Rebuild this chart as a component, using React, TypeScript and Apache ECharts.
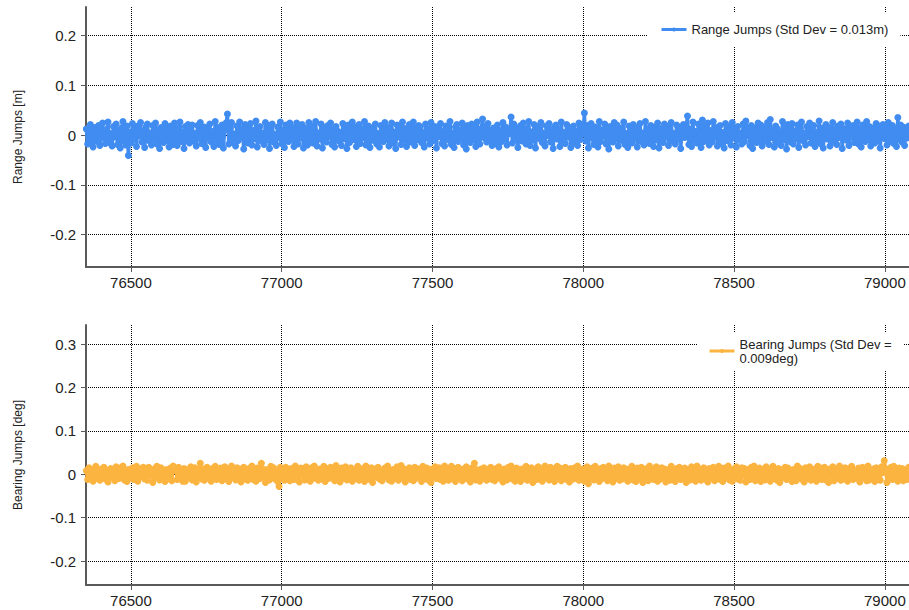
import React, { useEffect, useRef } from 'react';
import * as echarts from 'echarts';

const sampleStart = 76352;
const sampleStep = 4.5;

const rangeJumps = [
  0.012, -0.018, 0.005, 0.021, -0.009, -0.024, 0.015, 0.002, -0.013, 0.019, -0.021, 0.008, 0.024, -0.006, -0.017, 0.011, 0.026, -0.015, 0.003, -0.022,
  0.017, -0.004, 0.022, -0.019, 0.009, -0.026, 0.014, 0.027, -0.012, -0.020, 0.018, -0.041, 0.006, -0.016, 0.023, -0.008, 0.013, -0.023, 0.018, -0.002,
  0.025, -0.014, 0.007, -0.025, 0.016, 0.022, -0.011, 0.004, -0.020, 0.019, -0.007, 0.024, -0.018, 0.010, -0.027, 0.015, 0.001, -0.015, 0.023, -0.010,
  0.012, -0.024, 0.018, 0.008, -0.019, 0.024, -0.005, -0.021, 0.014, 0.026, -0.013, 0.006, -0.027, 0.017, -0.009, 0.021, -0.016, 0.011, 0.020, -0.012,
  0.003, -0.022, 0.019, -0.006, 0.025, -0.017, 0.009, 0.016, -0.025, 0.013, -0.003, 0.022, -0.014, 0.007, -0.023, 0.027, -0.010, 0.015, -0.019, 0.004,
  0.020, -0.026, 0.011, 0.024, 0.042, -0.018, 0.016, 0.025, -0.015, 0.002, -0.022, 0.018, -0.011, 0.026, -0.004, 0.012, -0.028, 0.021, 0.005, -0.016,
  0.014, 0.023, -0.020, 0.009, -0.007, 0.028, -0.024, 0.013, 0.017, -0.012, 0.004, -0.019, 0.025, -0.009, 0.019, -0.027, 0.008, 0.022, -0.014, 0.001,
  -0.021, 0.016, -0.005, 0.026, -0.017, 0.010, -0.025, 0.020, 0.003, -0.013, 0.024, -0.010, 0.015, -0.023, 0.007, 0.024, -0.018, 0.012, -0.006, 0.021,
  -0.026, 0.014, 0.006, -0.020, 0.025, -0.011, 0.018, -0.016, 0.009, 0.027, -0.022, 0.004, -0.008, 0.022, -0.026, 0.015, 0.011, -0.014, 0.019, -0.003,
  0.024, -0.019, 0.010, -0.024, 0.017, 0.008, -0.012, 0.005, -0.021, 0.023, -0.007, 0.013, -0.027, 0.020, -0.015, 0.008, 0.026, -0.009, 0.016, -0.023,
  0.002, 0.021, -0.017, 0.012, -0.005, 0.027, -0.020, 0.007, 0.018, -0.025, 0.014, 0.010, -0.011, 0.022, -0.018, 0.003, -0.024, 0.019, 0.009, -0.013,
  0.025, -0.008, 0.015, -0.022, 0.011, 0.024, -0.016, 0.006, -0.027, 0.020, -0.004, 0.017, -0.019, 0.026, -0.010, 0.013, -0.023, 0.008, 0.021, -0.014,
  0.001, 0.026, -0.021, 0.014, -0.009, 0.019, 0.016, -0.015, 0.005, -0.024, 0.022, -0.006, 0.012, -0.018, 0.025, -0.012, 0.009, 0.017, -0.026, 0.015,
  -0.003, 0.023, -0.017, 0.007, -0.022, 0.018, 0.011, -0.010, 0.027, -0.019, 0.004, -0.025, 0.016, 0.021, -0.013, 0.010, -0.007, 0.024, -0.020, 0.013,
  -0.028, 0.019, 0.002, -0.015, 0.022, -0.009, 0.015, -0.023, 0.026, 0.006, -0.018, 0.012, 0.032, -0.005, 0.017, -0.014, 0.023, -0.011, 0.008, -0.021,
  0.014, -0.017, 0.010, 0.020, -0.024, 0.009, -0.013, 0.025, -0.006, 0.016, -0.020, 0.011, 0.003, 0.036, -0.016, 0.022, -0.009, 0.014, -0.025, 0.007,
  0.019, -0.012, 0.024, -0.003, -0.018, 0.013, 0.027, -0.021, 0.006, -0.010, 0.021, -0.026, 0.012, 0.017, -0.007, 0.025, -0.015, 0.004, -0.022, 0.018,
  -0.001, 0.023, -0.014, 0.009, -0.027, 0.016, 0.020, -0.008, 0.012, -0.023, 0.026, -0.011, 0.005, -0.017, 0.021, -0.004, 0.015, -0.025, 0.010, 0.018,
  -0.016, 0.007, -0.021, 0.024, -0.009, 0.014, 0.002, 0.044, -0.012, 0.019, -0.026, 0.011, 0.023, -0.006, -0.019, 0.016, 0.008, -0.024, 0.027, -0.013,
  0.010, -0.002, 0.022, -0.018, 0.013, -0.028, 0.017, 0.005, -0.014, 0.025, -0.007, 0.020, -0.022, 0.009, 0.014, -0.011, 0.026, -0.019, 0.003, -0.025,
  0.018, 0.011, -0.016, 0.021, -0.006, 0.015, -0.024, 0.008, 0.023, -0.013, 0.004, -0.020, 0.027, -0.009, 0.012, -0.017, 0.019, 0.001, -0.023, 0.016,
  -0.010, 0.024, -0.026, 0.013, 0.006, -0.015, 0.022, -0.004, 0.017, -0.021, 0.010, 0.025, -0.012, 0.003, -0.018, 0.020, -0.008, 0.014, -0.027, 0.011,
  0.021, -0.005, 0.016, 0.038, -0.019, 0.012, -0.023, 0.026, -0.010, 0.007, -0.016, 0.022, 0.002, -0.025, 0.030, -0.013, 0.018, -0.007, 0.024, -0.020,
  0.009, -0.014, 0.027, -0.003, 0.015, -0.022, 0.010, 0.019, -0.017, 0.005, -0.026, 0.023, -0.011, 0.016, 0.008, -0.020, 0.025, -0.006, 0.013, -0.024,
  0.017, -0.009, 0.004, -0.018, 0.022, -0.013, 0.028, -0.001, 0.011, -0.021, 0.019, -0.027, 0.014, 0.007, -0.015, 0.024, -0.008, 0.020, -0.022, 0.003,
  0.016, -0.012, 0.025, -0.019, 0.031, -0.005, 0.010, -0.024, 0.018, 0.013, -0.016, 0.006, -0.021, 0.027, -0.009, 0.015, -0.028, 0.021, 0.002, -0.014,
  0.023, -0.018, 0.008, -0.007, 0.020, -0.025, 0.012, 0.026, -0.011, 0.004, -0.020, 0.017, -0.003, 0.024, -0.016, 0.010, 0.019, -0.023, 0.006, -0.012,
  0.028, -0.017, 0.014, -0.026, 0.009, 0.021, -0.008, 0.015, -0.022, 0.003, 0.025, -0.014, 0.011, -0.019, 0.018, -0.005, 0.022, -0.027, 0.013, 0.007,
  -0.010, 0.024, -0.021, 0.016, -0.004, 0.019, -0.015, 0.009, 0.026, -0.018, 0.012, -0.024, 0.020, 0.001, -0.013, 0.027, -0.009, 0.017, -0.022, 0.014,
  0.005, -0.016, 0.023, -0.011, 0.018, -0.026, 0.010, 0.021, -0.007, 0.015, -0.020, 0.025, -0.013, 0.008, 0.019, -0.017, 0.012, -0.023, 0.035, -0.008,
  0.020, -0.014, 0.016, -0.021, 0.009, -0.006, 0.018,
];

const bearingJumps = [
  0.008, -0.012, 0.015, -0.004, 0.011, -0.016, 0.003, 0.018, -0.009, 0.006, -0.014, 0.012, -0.002, 0.016, -0.011, 0.009, -0.018, 0.005, 0.013, -0.007,
  0.010, -0.015, 0.017, -0.003, -0.010, 0.014, -0.006, 0.019, -0.013, 0.004, -0.017, 0.011, 0.007, -0.008, 0.015, -0.012, 0.002, 0.018, -0.016, 0.009,
  -0.005, 0.013, 0.016, -0.011, 0.006, -0.014, 0.016, -0.002, 0.010, -0.019, 0.012, -0.008, 0.018, 0.003, -0.013, 0.015, -0.006, 0.009, -0.017, 0.011,
  0.004, -0.010, 0.014, -0.015, 0.019, 0.012, 0.008, -0.012, 0.016, 0.010, -0.009, -0.016, 0.013, -0.016, 0.006, 0.011, -0.007, 0.017, -0.013, 0.002,
  0.015, -0.018, 0.009, -0.005, 0.025, -0.011, 0.012, -0.014, 0.004, 0.016, -0.009, 0.007, -0.016, 0.013, -0.003, 0.018, -0.012, 0.010, -0.006, 0.014,
  -0.015, 0.005, 0.017, -0.010, 0.011, -0.017, 0.008, 0.019, -0.007, 0.003, -0.013, 0.015, -0.004, 0.012, -0.018, 0.009, 0.016, -0.011, 0.006, -0.014,
  0.013, -0.008, 0.019, -0.012, 0.004, -0.016, 0.014, 0.007, -0.010, 0.025, -0.005, 0.011, -0.019, 0.010, 0.002, -0.013, 0.018, -0.007, 0.015, -0.011,
  0.006, -0.017, -0.028, 0.016, -0.009, 0.008, -0.014, 0.016, -0.003, 0.010, -0.015, 0.013, 0.005, -0.012, 0.019, -0.006, 0.009, -0.018, 0.014, -0.002,
  0.011, -0.013, 0.017, -0.008, 0.004, -0.016, 0.015, -0.010, 0.019, -0.005, 0.008, -0.014, 0.012, 0.003, -0.011, 0.018, -0.017, 0.007, 0.013, -0.009,
  0.016, -0.004, 0.010, -0.015, 0.020, -0.012, 0.006, -0.018, 0.014, 0.001, -0.009, 0.017, -0.013, 0.009, -0.006, 0.015, -0.016, 0.011, 0.004, -0.010,
  0.018, -0.014, 0.007, -0.008, 0.013, -0.017, 0.019, -0.003, 0.010, -0.012, 0.015, -0.019, 0.005, 0.012, -0.007, 0.016, -0.011, 0.003, -0.015, 0.009,
  0.014, -0.006, 0.019, -0.013, 0.008, -0.016, 0.011, 0.004, -0.010, 0.017, -0.014, 0.006, 0.020, -0.008, 0.012, -0.018, 0.009, -0.004, 0.015, -0.012,
  0.007, -0.015, 0.016, -0.009, 0.013, -0.005, 0.010, -0.017, 0.018, -0.011, 0.003, 0.014, -0.013, 0.008, -0.019, 0.012, -0.006, 0.017, -0.010, 0.005,
  0.015, -0.012, 0.009, -0.016, 0.019, -0.007, 0.011, -0.014, 0.006, 0.018, -0.010, 0.013, -0.017, 0.004, 0.016, -0.008, 0.010, -0.015, 0.012, -0.003,
  0.017, -0.011, 0.008, -0.018, 0.014, -0.006, 0.025, -0.013, 0.010, 0.003, -0.016, 0.012, -0.009, 0.015, 0.006, -0.014, 0.011, -0.007, 0.016, -0.012,
  0.009, -0.015, 0.013, -0.004, 0.017, -0.010, 0.006, -0.018, 0.012, 0.002, -0.013, 0.016, -0.008, 0.019, -0.011, 0.007, -0.016, 0.014, -0.005, 0.010,
  -0.017, 0.012, 0.004, -0.009, 0.018, -0.014, 0.008, -0.006, 0.015, -0.019, 0.011, 0.005, -0.012, 0.017, -0.003, 0.013, -0.016, 0.009, 0.019, -0.008,
  0.006, -0.013, 0.016, -0.010, 0.012, -0.017, 0.003, 0.018, -0.007, 0.014, -0.015, 0.010, -0.004, 0.016, -0.012, 0.008, -0.018, 0.013, 0.001, -0.011,
  0.015, -0.006, 0.019, -0.014, 0.009, -0.009, 0.012, -0.016, 0.005, 0.017, -0.022, 0.011, -0.008, 0.014, -0.013, 0.018, -0.005, 0.007, -0.017, 0.013,
  -0.010, 0.016, -0.003, 0.011, -0.015, 0.019, -0.012, 0.006, -0.018, 0.014, 0.008, -0.009, 0.017, -0.014, 0.004, -0.011, 0.015, -0.007, 0.012, -0.016,
  0.010, -0.004, 0.018, -0.013, 0.007, -0.017, 0.014, 0.002, -0.010, 0.016, -0.019, 0.009, -0.006, 0.013, -0.015, 0.019, -0.008, 0.011, -0.012, 0.005,
  0.017, -0.016, 0.008, -0.011, 0.015, -0.005, 0.012, -0.018, 0.010, 0.004, -0.014, 0.018, -0.009, 0.006, -0.017, 0.013, -0.003, 0.016, -0.012, 0.009,
  -0.007, 0.014, -0.019, 0.011, 0.003, -0.013, 0.017, -0.010, 0.008, -0.016, 0.019, -0.006, 0.012, -0.014, 0.005, 0.015, -0.011, 0.009, -0.018, 0.013,
  0.002, -0.009, 0.016, -0.015, 0.011, -0.004, 0.018, -0.012, 0.007, -0.017, 0.014, 0.010, -0.008, 0.019, -0.013, 0.006, -0.016, 0.012, -0.005, 0.017,
  -0.011, 0.008, -0.014, 0.015, -0.002, 0.013, -0.018, 0.010, 0.005, -0.012, 0.016, -0.009, 0.019, -0.015, 0.004, -0.007, 0.014, -0.017, 0.011, 0.003,
  -0.013, 0.017, -0.006, 0.012, -0.016, 0.009, 0.018, -0.010, 0.006, -0.014, 0.013, -0.019, 0.010, 0.002, -0.008, 0.016, -0.012, 0.014, -0.004, 0.008,
  -0.017, 0.011, 0.005, -0.015, 0.019, -0.007, 0.013, -0.011, 0.008, -0.018, 0.015, 0.003, -0.010, 0.017, -0.014, 0.009, -0.006, 0.012, -0.016, 0.018,
  -0.008, 0.014, -0.012, 0.006, 0.016, -0.013, 0.010, -0.019, 0.012, -0.003, 0.017, -0.015, 0.007, 0.011, -0.009, 0.019, -0.014, 0.004, -0.011, 0.015,
  0.009, -0.016, 0.013, -0.005, 0.018, -0.012, 0.006, -0.004, -0.010, 0.014, -0.018, 0.008, 0.016, -0.007, 0.011, -0.015, 0.019, -0.013, 0.003, -0.009,
  0.012, -0.017, 0.015, -0.006, 0.010, -0.014, 0.017, 0.004, 0.031, 0.013, -0.019, 0.009, -0.008, 0.016, -0.012, 0.018, -0.005, 0.011, -0.016, 0.014,
  -0.009, 0.013, -0.015, 0.010, 0.006, -0.012, 0.016,
];

const xTicks = [76500, 77000, 77500, 78000, 78500, 79000];
const rangeTicks = [-0.2, -0.1, 0, 0.1, 0.2];
const bearingTicks = [-0.2, -0.1, 0, 0.1, 0.2, 0.3];

const rangeName = 'Range Jumps (Std Dev = 0.013m)';
const bearingName = 'Bearing Jumps (Std Dev = 0.009deg)';
const rangeAxisName = 'Range Jumps [m]';
const bearingAxisName = 'Bearing Jumps [deg]';

const FONT = 'Liberation Sans, Arial, sans-serif';
const AXIS_COLOR = '#5a5a5a';
const TEXT_COLOR = '#222';

function makeX(gridIndex: number) {
  return {
    type: 'value',
    gridIndex,
    min: 76351,
    max: 79080,
    axisLine: { show: true, onZero: false, lineStyle: { color: AXIS_COLOR, width: 2 } },
    axisTick: { show: true, length: 5, customValues: xTicks, lineStyle: { color: AXIS_COLOR, width: 1 } },
    axisLabel: {
      customValues: xTicks,
      formatter: (v: number) => String(v),
      color: TEXT_COLOR,
      fontSize: 15,
      fontFamily: FONT,
      margin: 8,
    },
    splitLine: { show: true, lineStyle: { type: 'dotted', color: '#000', width: 1 } },
  };
}

function makeY(gridIndex: number, min: number, max: number, ticks: number[], name: string) {
  return {
    type: 'value',
    gridIndex,
    min,
    max,
    name,
    nameLocation: 'middle',
    nameGap: 62,
    nameTextStyle: { fontSize: 12, color: TEXT_COLOR, fontFamily: FONT },
    axisLine: { show: true, onZero: false, lineStyle: { color: AXIS_COLOR, width: 2 } },
    axisTick: { show: true, length: 5, customValues: ticks, lineStyle: { color: AXIS_COLOR, width: 1 } },
    axisLabel: {
      customValues: ticks,
      formatter: (v: number) => String(v),
      color: TEXT_COLOR,
      fontSize: 15,
      fontFamily: FONT,
      margin: 10,
    },
    splitLine: { show: true, lineStyle: { type: 'dotted', color: '#000', width: 1 } },
  };
}

export default function App() {
  const ref = useRef<HTMLDivElement>(null);

  useEffect(() => {
    if (!ref.current) return;
    const chart = echarts.init(ref.current, undefined, { renderer: 'svg' });
    const rangeData = rangeJumps.map((v, i) => [sampleStart + i * sampleStep, v]);
    const bearingData = bearingJumps.map((v, i) => [sampleStart + i * sampleStep, v]);

    chart.setOption({
      animation: false,
      backgroundColor: '#fff',
      grid: [
        { left: 86, top: 7, width: 823, height: 260 },
        { left: 86, top: 325, width: 823, height: 260 },
      ],
      xAxis: [makeX(0), makeX(1)],
      yAxis: [
        makeY(0, -0.265, 0.257, rangeTicks, rangeAxisName),
        makeY(1, -0.2553, 0.3438, bearingTicks, bearingAxisName),
      ],
      legend: [
        {
          data: [rangeName],
          left: 648,
          top: 13,
          orient: 'vertical',
          backgroundColor: '#fff',
          padding: [10, 12, 10, 12],
          itemWidth: 25,
          itemHeight: 5,
          lineStyle: { width: 3 },
          textStyle: { fontSize: 13, color: TEXT_COLOR, fontFamily: FONT },
        },
        {
          data: [bearingName],
          left: 697,
          top: 332,
          orient: 'vertical',
          backgroundColor: '#fff',
          padding: [5, 12, 6, 11],
          itemWidth: 25,
          itemHeight: 5,
          lineStyle: { width: 3 },
          formatter: (n: string) => n.replace('= ', '=\n'),
          textStyle: { fontSize: 13, lineHeight: 14, color: TEXT_COLOR, fontFamily: FONT },
        },
      ],
      series: [
        {
          name: rangeName,
          type: 'line',
          xAxisIndex: 0,
          yAxisIndex: 0,
          data: rangeData,
          color: '#418CF0',
          symbol: 'circle',
          symbolSize: 7,
          showSymbol: true,
          showAllSymbol: true,
          lineStyle: { width: 3.5 },
        },
        {
          name: bearingName,
          type: 'line',
          xAxisIndex: 1,
          yAxisIndex: 1,
          data: bearingData,
          color: '#FCB441',
          symbol: 'circle',
          symbolSize: 7,
          showSymbol: true,
          showAllSymbol: true,
          lineStyle: { width: 3.5 },
        },
      ],
    });

    return () => chart.dispose();
  }, []);

  return (
    <div
      ref={ref}
      style={{ position: 'absolute', left: 0, top: 0, width: 909, height: 610 }}
    />
  );
}
